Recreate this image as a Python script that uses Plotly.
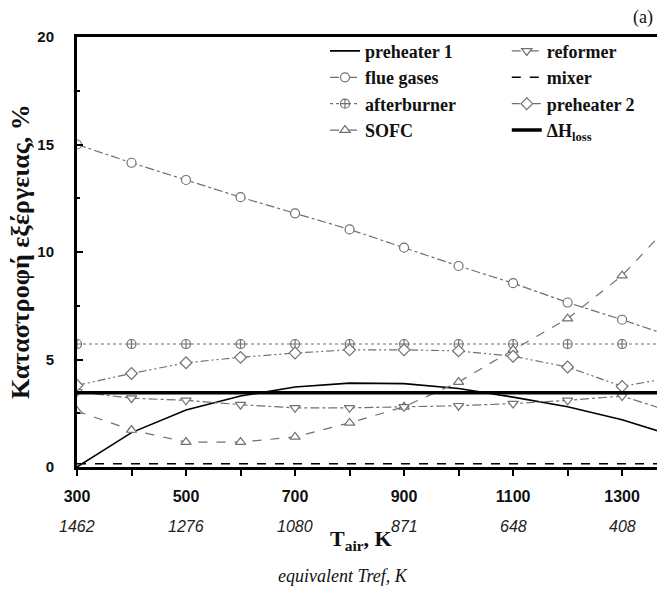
import plotly.graph_objects as go

# ---- data ----
T_air = [300, 400, 500, 600, 700, 800, 900, 1000, 1100, 1200, 1300, 1400]
preheater1 = [0.0, 1.6, 2.65, 3.3, 3.72, 3.9, 3.88, 3.65, 3.25, 2.8, 2.2, 1.4]
flue_gases = [15.0, 14.15, 13.35, 12.55, 11.8, 11.05, 10.2, 9.35, 8.55, 7.65, 6.85, 6.0]
afterburner = [5.72, 5.72, 5.72, 5.72, 5.72, 5.72, 5.72, 5.72, 5.72, 5.72, 5.72, 5.72]
sofc = [2.6, 1.72, 1.16, 1.16, 1.4, 2.05, 2.8, 3.95, 5.45, 6.9, 8.9, 11.6]
reformer = [3.5, 3.2, 3.1, 2.9, 2.75, 2.75, 2.8, 2.85, 2.95, 3.1, 3.3, 2.5]
mixer = [0.15, 0.15, 0.15, 0.15, 0.15, 0.15, 0.15, 0.15, 0.15, 0.15, 0.15, 0.15]
preheater2 = [3.8, 4.35, 4.85, 5.1, 5.3, 5.45, 5.45, 5.4, 5.15, 4.65, 3.75, 4.2]
dh_loss = [3.45, 3.45, 3.45, 3.45, 3.45, 3.45, 3.45, 3.45, 3.45, 3.45, 3.45, 3.45]

x_tickvals = [300, 500, 700, 900, 1100, 1300]
x_ticktext = ["300", "500", "700", "900", "1100", "1300"]
equiv_Tref = ["1462", "1276", "1080", "871", "648", "408"]
y_tickvals = [0, 5, 10, 15, 20]

GRAY = "#707070"
fig = go.Figure()

def add(name, y, color, width, dash, symbol, legend, group):
    mode = "lines+markers" if symbol else "lines"
    fig.add_trace(go.Scatter(
        x=T_air, y=y, name=name, mode=mode,
        line=dict(color=color, width=width, dash=dash),
        marker=dict(symbol=symbol or "circle", size=9, color="white",
                    line=dict(color=color, width=1.2)),
        legend=legend, legendgroup=group,
    ))

add("preheater 1", preheater1, "black", 1.6, "solid", None, "legend", "a")
add("flue gases", flue_gases, GRAY, 1.2, "dashdot", "circle", "legend", "b")
add("afterburner", afterburner, GRAY, 1.2, "dot", "circle-cross", "legend", "c")
add("SOFC", sofc, GRAY, 1.2, "dash", "triangle-up", "legend", "d")
add("reformer", reformer, GRAY, 1.2, "dashdot", "triangle-down", "legend2", "e")
add("mixer", mixer, "black", 1.4, "dash", None, "legend2", "f")
add("preheater 2", preheater2, GRAY, 1.2, "8px,3px,2px,3px,2px,3px", "diamond", "legend2", "g")
add("ΔH<sub>loss</sub>", dh_loss, "black", 3.5, "solid", None, "legend2", "h")

for xv, txt in zip(x_tickvals, equiv_Tref):
    fig.add_annotation(x=xv, xref="x", y=0, yref="paper", yshift=-59,
                       text="<i>" + txt + "</i>", showarrow=False,
                       font=dict(family="Liberation Sans", size=16, color="#222"),
                       xanchor="center", yanchor="middle")

fig.add_annotation(x=0.5, xref="paper", y=0, yref="paper", yshift=-73,
                   xshift=-6,
                   text="<b>T<sub>air</sub>, K</b>", showarrow=False,
                   font=dict(family="Liberation Serif", size=22, color="#111"),
                   xanchor="center", yanchor="middle")
fig.add_annotation(x=0.5, xref="paper", y=0, yref="paper", yshift=-109,
                   xshift=-24,
                   text="<i>equivalent Tref, K</i>", showarrow=False,
                   font=dict(family="Liberation Serif", size=18, color="#111"),
                   xanchor="center", yanchor="middle")
fig.add_annotation(x=0, xref="paper", y=0.5, yref="paper", xshift=-57,
                   text="<b>Καταστροφή εξέργειας, %</b>", textangle=-90,
                   showarrow=False,
                   font=dict(family="Liberation Serif", size=26, color="#111"),
                   xanchor="center", yanchor="middle")
fig.add_annotation(x=(643 - 77) / 580, xref="paper", y=1, yref="paper", yshift=20,
                   text="(a)", showarrow=False,
                   font=dict(family="Liberation Serif", size=18, color="#111"),
                   xanchor="center", yanchor="middle")

legend_style = dict(font=dict(family="Liberation Serif", size=18, color="#111", weight="bold"),
                    bgcolor="rgba(0,0,0,0)", tracegroupgap=0, yanchor="top",
                    xanchor="left", traceorder="grouped")

fig.update_layout(
    width=657, height=595,
    margin=dict(l=77, r=0, t=37, b=128, autoexpand=False),
    paper_bgcolor="white", plot_bgcolor="white",
    legend=dict(x=0.4276, y=1.01, **legend_style),
    legend2=dict(x=0.741, y=1.01, **legend_style),
    xaxis=dict(range=[300, 1364], tickmode="array", tickvals=x_tickvals,
               ticktext=x_ticktext, ticks="outside", ticklen=6, tickwidth=2,
               tickcolor="black", showline=True, linewidth=3, linecolor="black",
               mirror=True, showgrid=False, zeroline=False,
               tickfont=dict(family="Liberation Sans", size=16, color="#111", weight="bold"),
               ticklabelstandoff=7,
               minor=dict(dtick=100, tick0=300, ticks="outside", ticklen=6,
                          tickwidth=2, tickcolor="black")),
    xaxis2=dict(range=[300, 1364], overlaying="x", anchor="y", side="bottom",
                showline=False, showgrid=False, zeroline=False,
                showticklabels=False, ticks="outside", ticklen=3, tickwidth=1.5,
                tickcolor="black", dtick=50, tick0=350),
    yaxis=dict(range=[0, 20], tickmode="array", tickvals=y_tickvals,
               ticks="inside", ticklen=6, tickwidth=2, tickcolor="black",
               showline=True, linewidth=3, linecolor="black", mirror=False,
               showgrid=False, zeroline=False,
               tickfont=dict(family="Liberation Sans", size=15, color="#111", weight="bold"),
               ticklabelstandoff=17,
               minor=dict(dtick=2.5, tick0=0, ticks="inside", ticklen=3,
                          tickwidth=1.5, tickcolor="black")),
)

fig.write_html("out.html", config={"displayModeBar": False},
               post_script="document.body.style.margin='0px';document.body.style.overflow='hidden';")
